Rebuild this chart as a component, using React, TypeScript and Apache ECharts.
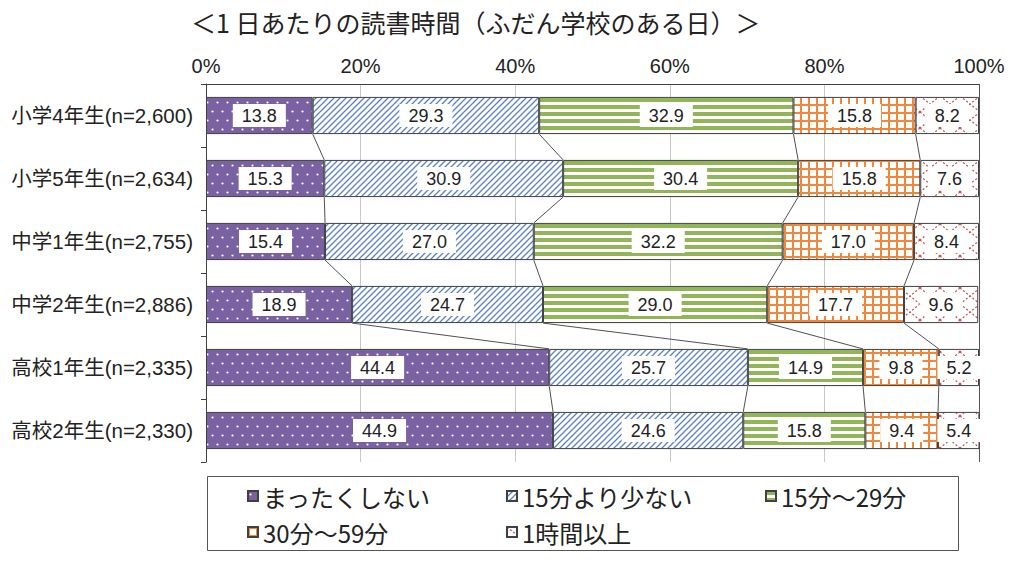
import React, { useEffect, useRef } from "react";
import * as echarts from "echarts";

const titleText = "＜1 日あたりの読書時間（ふだん学校のある日）＞";
const categories = [
  "小学4年生(n=2,600)",
  "小学5年生(n=2,634)",
  "中学1年生(n=2,755)",
  "中学2年生(n=2,886)",
  "高校1年生(n=2,335)",
  "高校2年生(n=2,330)",
];
const seriesNames = ["まったくしない", "15分より少ない", "15分～29分", "30分～59分", "1時間以上"];
const neverRead = [13.8, 15.3, 15.4, 18.9, 44.4, 44.9];
const under15 = [29.3, 30.9, 27.0, 24.7, 25.7, 24.6];
const from15to29 = [32.9, 30.4, 32.2, 29.0, 14.9, 15.8];
const from30to59 = [15.8, 15.8, 17.0, 17.7, 9.8, 9.4];
const over1h = [8.2, 7.6, 8.4, 9.6, 5.2, 5.4];
const xTicks = [0, 20, 40, 60, 80, 100];

const allSeries = [neverRead, under15, from15to29, from30to59, over1h];
const BAR_FRAC = 0.59;

function makePattern(w: number, h: number, draw: (ctx: CanvasRenderingContext2D) => void) {
  const c = document.createElement("canvas");
  c.width = w;
  c.height = h;
  const ctx = c.getContext("2d")!;
  draw(ctx);
  return { image: c, repeat: "repeat", imageWidth: w, imageHeight: h } as any;
}

export default function App() {
  const ref = useRef<HTMLDivElement>(null);
  useEffect(() => {
    if (!ref.current) return;
    const chart = echarts.init(ref.current, undefined, { renderer: "svg" });

    const dots = makePattern(10, 18, (ctx) => {
      ctx.fillStyle = "#7a62a2";
      ctx.fillRect(0, 0, 10, 18);
      ctx.fillStyle = "#ffffff";
      ctx.beginPath();
      ctx.arc(2.5, 3.5, 1.1, 0, Math.PI * 2);
      ctx.fill();
      ctx.beginPath();
      ctx.arc(7.5, 12.5, 1.1, 0, Math.PI * 2);
      ctx.fill();
    });
    const diag = makePattern(6, 6, (ctx) => {
      ctx.fillStyle = "#ffffff";
      ctx.fillRect(0, 0, 6, 6);
      ctx.strokeStyle = "#5a82c8";
      ctx.lineWidth = 1.3;
      ctx.beginPath();
      ctx.moveTo(-1, 7);
      ctx.lineTo(7, -1);
      ctx.moveTo(-1, 1);
      ctx.lineTo(1, -1);
      ctx.moveTo(5, 7);
      ctx.lineTo(7, 5);
      ctx.stroke();
    });
    const horiz = makePattern(4, 7, (ctx) => {
      ctx.fillStyle = "#ffffff";
      ctx.fillRect(0, 0, 4, 7);
      ctx.fillStyle = "#92b558";
      ctx.fillRect(0, 0, 4, 4);
    });
    const grid = makePattern(8, 8, (ctx) => {
      ctx.fillStyle = "#ffffff";
      ctx.fillRect(0, 0, 8, 8);
      ctx.fillStyle = "#f0883c";
      ctx.fillRect(0, 0, 8, 2);
      ctx.fillRect(0, 0, 2, 8);
    });
    const cross = makePattern(20, 16, (ctx) => {
      ctx.fillStyle = "#ffffff";
      ctx.fillRect(0, 0, 20, 16);
      ctx.strokeStyle = "#c0504d";
      ctx.lineWidth = 1.1;
      ctx.setLineDash([2, 2]);
      ctx.beginPath();
      ctx.moveTo(0, 0);
      ctx.lineTo(20, 16);
      ctx.moveTo(20, 0);
      ctx.lineTo(0, 16);
      ctx.stroke();
    });
    const fills = [dots, diag, horiz, grid, cross];

    const cum: number[][] = categories.map((_, i) => {
      const arr = [0];
      let s = 0;
      allSeries.forEach((ser) => {
        s += ser[i];
        arr.push(s);
      });
      return arr;
    });
    const connectorData: number[][] = [];
    for (let i = 0; i < categories.length - 1; i++) {
      for (let k = 1; k <= 4; k++) connectorData.push([cum[i][k], i, k]);
    }

    const labelFont = "'Liberation Sans', 'Noto Sans CJK JP', sans-serif";
    const cjkFont = "'Noto Sans CJK JP', sans-serif";

    const barSeries = seriesNames.map((name, si) => ({
      name,
      type: "bar",
      stack: "total",
      barWidth: BAR_FRAC * 100 + "%",
      data: allSeries[si],
      itemStyle: { color: fills[si], borderColor: "#404040", borderWidth: 1 },
      label: {
        show: true,
        position: "inside",
        formatter: (p: any) => Number(p.value).toFixed(1),
        fontSize: 18,
        fontFamily: labelFont,
        color: "#222",
        backgroundColor: "#ffffff",
        padding: [3, 9, 2, 9],
      },
      z: 2,
    }));

    chart.setOption({
      animation: false,
      title: {
        text: titleText,
        left: 186,
        top: 4,
        textStyle: { fontSize: 25, fontWeight: "normal", color: "#222", fontFamily: cjkFont },
      },
      grid: { left: 206, right: 45, top: 84, bottom: 101, containLabel: false },
      xAxis: {
        type: "value",
        position: "top",
        min: xTicks[0],
        max: xTicks[xTicks.length - 1],
        interval: xTicks[1] - xTicks[0],
        axisLine: { show: true, lineStyle: { color: "#404040", width: 1 } },
        axisTick: { show: false },
        axisLabel: { formatter: "{value}%", fontSize: 20, color: "#222", margin: 8, fontFamily: labelFont },
        splitLine: {
          show: true,
          lineStyle: { color: ["#404040", "#c8c8c8", "#c8c8c8", "#c8c8c8", "#c8c8c8", "#555555"], width: 1 },
        },
      },
      yAxis: {
        type: "category",
        data: categories,
        inverse: true,
        axisLine: { show: true, lineStyle: { color: "#404040", width: 1 } },
        axisTick: { show: true, length: 5, lineStyle: { color: "#404040" } },
        axisLabel: { fontSize: 20.5, color: "#222", margin: 13, fontFamily: labelFont },
      },
      legend: {
        data: seriesNames,
        icon: "rect",
        left: 242,
        top: 473,
        width: 790,
        itemWidth: 10,
        itemHeight: 10,
        itemGap: 0,
        selectedMode: false,
        textStyle: { fontSize: 24, lineHeight: 36, width: 243, color: "#222", fontFamily: cjkFont },
      },
      graphic: [
        {
          type: "rect",
          silent: true,
          shape: { x: 207.5, y: 476.5, width: 751, height: 74 },
          style: { fill: "none", stroke: "#555", lineWidth: 1 },
        },
      ],
      series: [
        ...barSeries,
        {
          type: "custom",
          coordinateSystem: "cartesian2d",
          silent: true,
          clip: false,
          z: 3,
          encode: { x: 0, y: 1 },
          data: connectorData,
          renderItem: (params: any, api: any) => {
            const i = api.value(1) as number;
            const k = api.value(2) as number;
            const p0 = api.coord([cum[i][k], i]);
            const p1 = api.coord([cum[i + 1][k], i + 1]);
            const band = api.size([0, 1])[1];
            const half = (band * BAR_FRAC) / 2;
            return {
              type: "line",
              shape: { x1: p0[0], y1: p0[1] + half, x2: p1[0], y2: p1[1] - half },
              style: { stroke: "#505050", lineWidth: 1 },
            };
          },
        },
      ],
    });
    return () => chart.dispose();
  }, []);
  return (
    <div
      ref={ref}
      style={{ position: "fixed", left: 0, top: 0, width: 1024, height: 563, background: "#ffffff" }}
    />
  );
}
